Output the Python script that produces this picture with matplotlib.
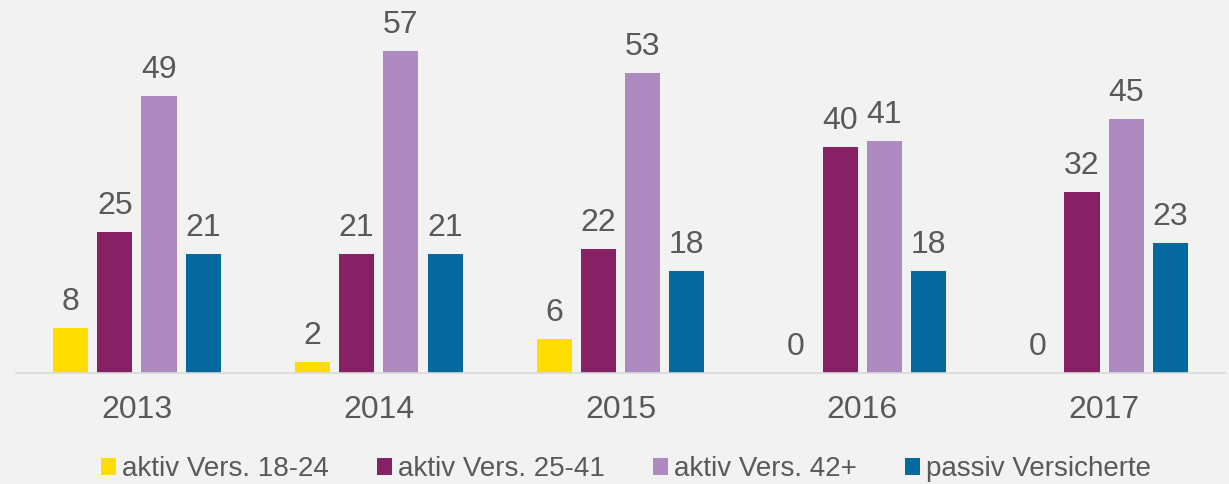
import matplotlib
matplotlib.use("Agg")
import matplotlib.pyplot as plt
from matplotlib.patches import Patch
import numpy as np

plt.rcParams['font.family'] = ['Liberation Sans', 'DejaVu Sans']

years = ["2013", "2014", "2015", "2016", "2017"]
series_names = ["aktiv Vers. 18-24", "aktiv Vers. 25-41", "aktiv Vers. 42+", "passiv Versicherte"]
aktiv_18_24 = [8, 2, 6, 0, 0]
aktiv_25_41 = [25, 21, 22, 40, 32]
aktiv_42 = [49, 57, 53, 41, 45]
passiv = [21, 21, 18, 18, 23]
series = [aktiv_18_24, aktiv_25_41, aktiv_42, passiv]
colors = ["#FFDD00", "#862165", "#AD8BC0", "#05689E"]

bg = "#F2F2F2"
txt = "#595959"

fig = plt.figure(figsize=(12.29, 4.84), dpi=100, facecolor=bg)
ax = fig.add_axes([16/1229, (484-373)/484, 1209/1229, 373/484], facecolor=bg)

x = np.arange(len(years))
step = 0.183
width = 0.145
for i, (vals, c) in enumerate(zip(series, colors)):
    bars = ax.bar(x + (i - 1.5) * step, vals, width=width, color=c, label=series_names[i], zorder=2)
    ax.bar_label(bars, labels=[str(v) for v in vals], padding=8, fontsize=23, color=txt)

ax.set_xlim(-0.5, len(years) - 0.5)
ax.set_ylim(0, 66)
ax.set_yticks([])
ax.set_xticks(x)
ax.set_xticklabels(years, fontsize=23, color=txt)
ax.tick_params(axis='x', length=0, pad=16)
for s in ["top", "right", "left"]:
    ax.spines[s].set_visible(False)
ax.spines["bottom"].set_color("#D9D9D9")
ax.spines["bottom"].set_linewidth(1.2)

handles = [Patch(facecolor=c, edgecolor='none') for c in colors]
fig.legend(handles, series_names, loc="center", bbox_to_anchor=(626/1229, 1 - 469/484),
           ncol=4, frameon=False, fontsize=20, labelcolor=txt,
           handlelength=0.55, handleheight=0.55, handletextpad=0.22, columnspacing=1.72,
           borderaxespad=0, borderpad=0)

fig.savefig("out.png", dpi=100, facecolor=bg)
